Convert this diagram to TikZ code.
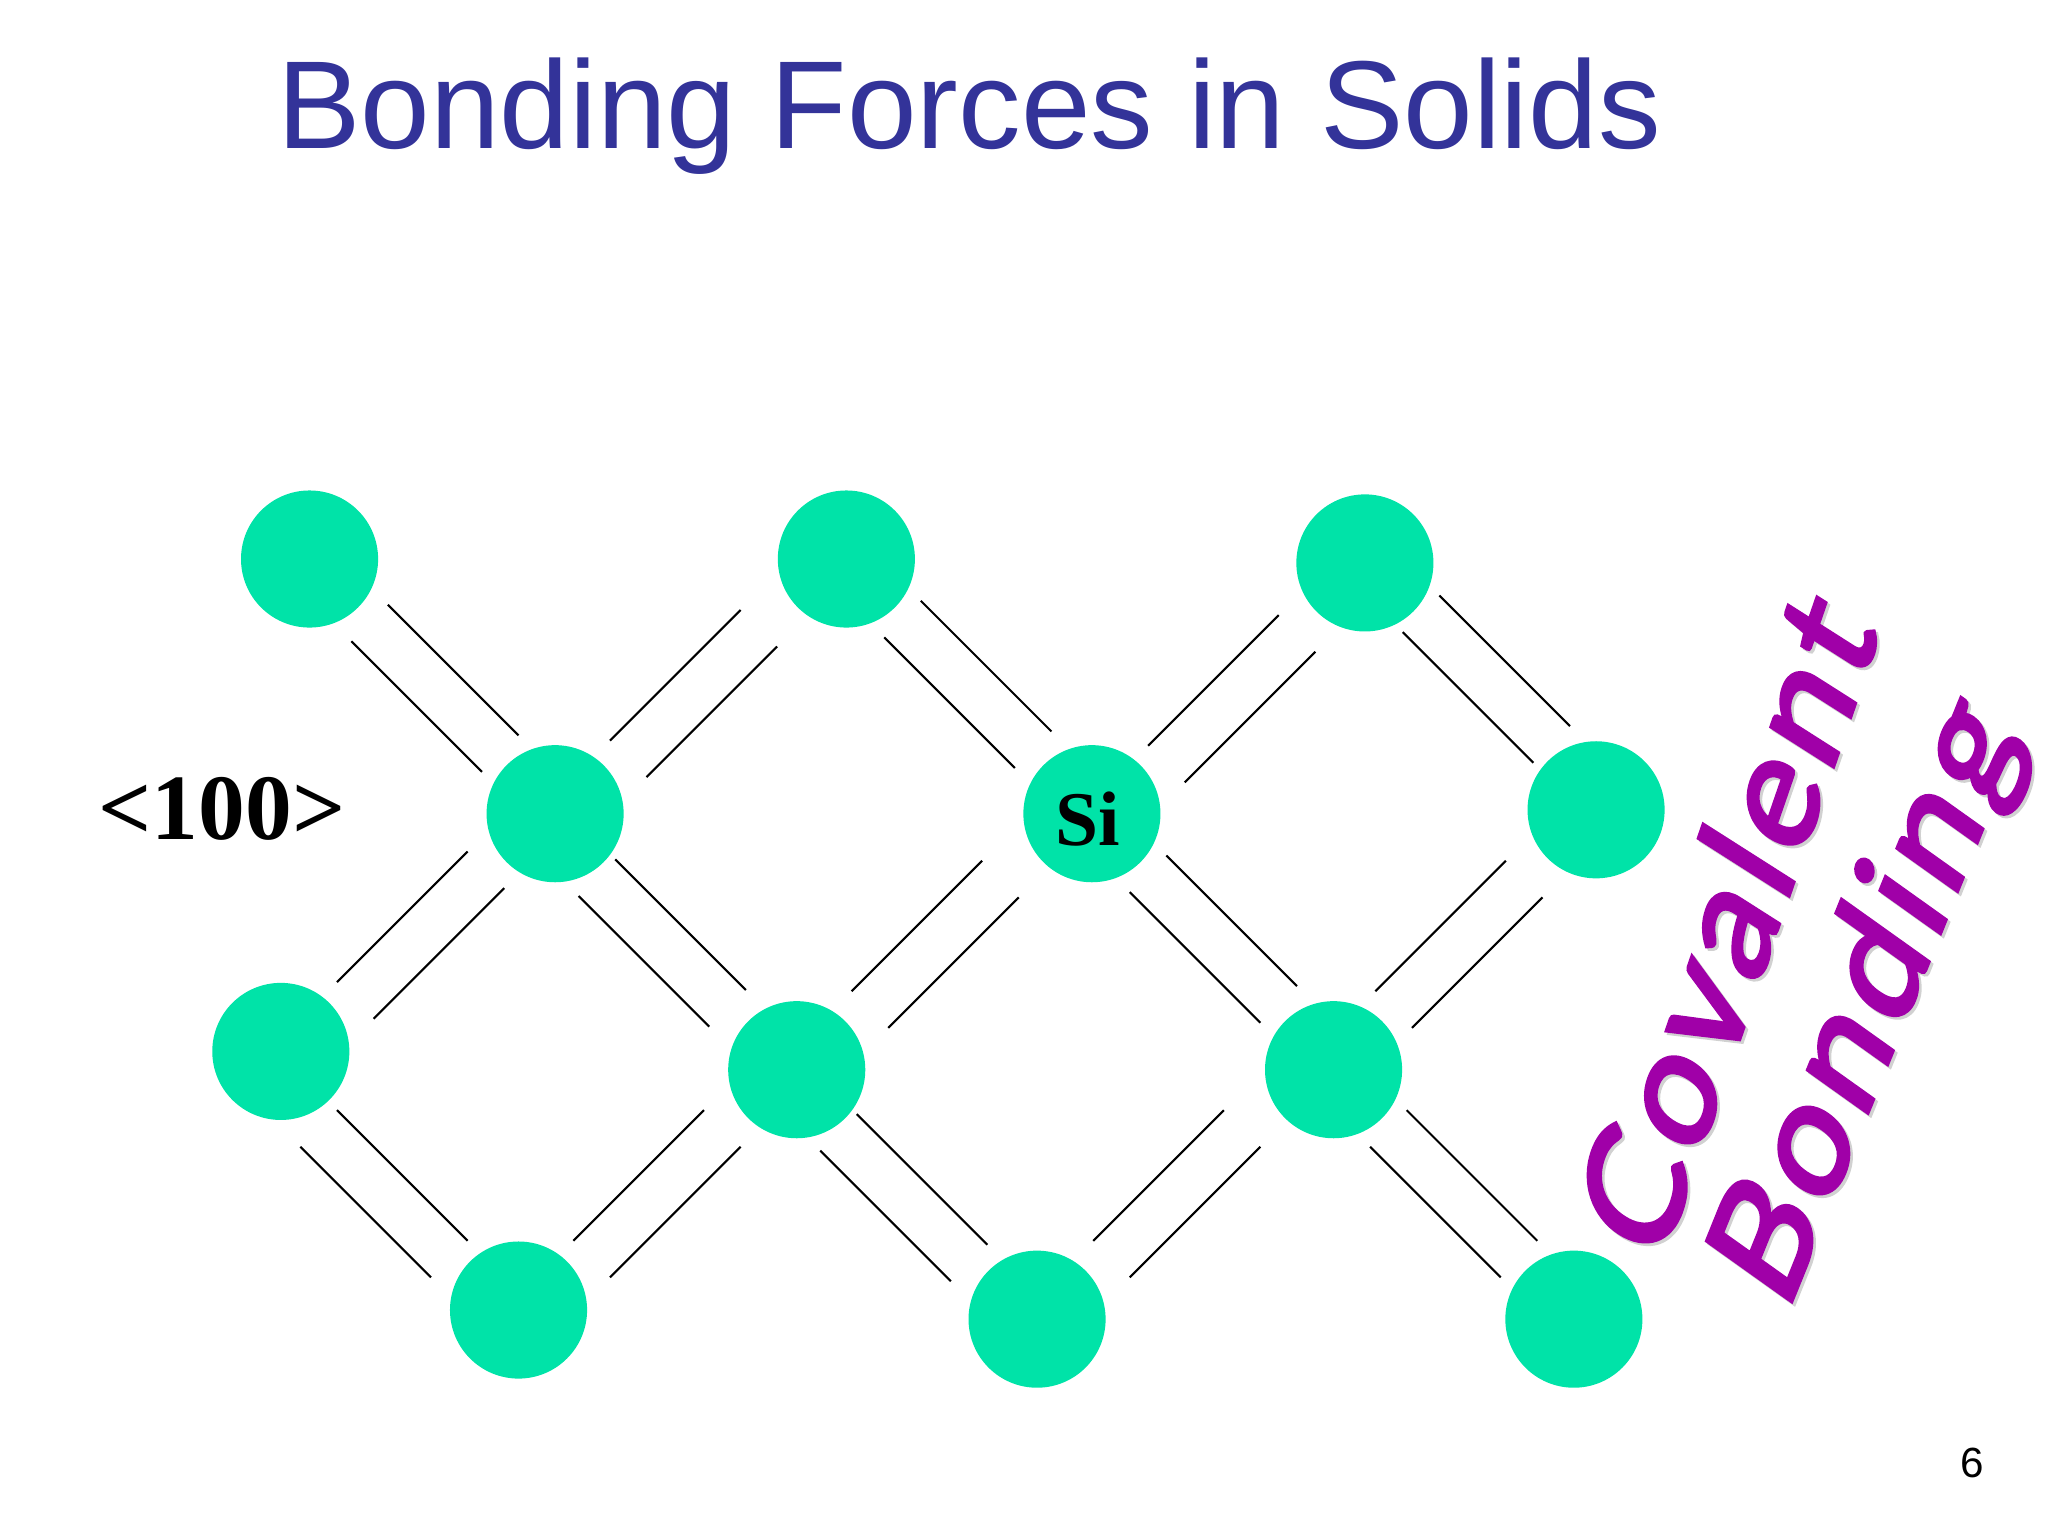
\documentclass[tikz,border=0pt]{standalone}
\usepackage{fontspec}
\setmainfont{Liberation Sans}
\newfontfamily\timesfont{Liberation Serif}
\newfontfamily\handfont[FakeBold=3, FakeStretch=1.12, LetterSpace=6]{Lato}
\definecolor{atomgreen}{HTML}{00E3A8}
\definecolor{titleblue}{HTML}{333399}
\definecolor{bondpurple}{HTML}{A000A8}
\tikzstyle{atom}=[circle, fill=atomgreen, minimum size=1.371cm, inner sep=0pt]
\tikzstyle{bond}=[draw, black, line width=0.6pt]
\tikzstyle{wordart}=[font=\handfont\fontsize{40}{40}\selectfont, anchor=center, inner sep=0pt]
\tikzstyle{lean}=[xslant=0.24]

\begin{document}
\begin{tikzpicture}[x=0.01306cm, y=-0.01306cm]
    \useasboundingbox (0,0) rectangle (1568,1176);
    \node[text=titleblue, font=\fontsize{35.6}{36}\selectfont] (title) at (742,89) {Bonding Forces in Solids};

    \foreach \pos/\name in {
                            {(237,428)/a1}, {(648,428)/a2}, {(1045,431)/a3},
                            {(425,623)/b1}, {(836,623)/b2}, {(1222,620)/b3},
                            {(215,805)/c1}, {(610,819)/c2}, {(1021,819)/c3},
                            {(397,1003)/d1}, {(794,1010)/d2}, {(1205,1010)/d3}}
        \node[atom] (\name) at \pos {};

    % Bonds going down to the right, the second line lies below and left of the first
    \foreach \source/\dest/\sx/\sy/\tx/\ty in {
                            a1/b1/60/35/-28/-60, a2/b2/57/32/-31/-63, a3/b3/57/25/-20/-64,
                            b1/c2/46/35/-39/-61, b2/c3/57/32/-28/-64, c1/d1/43/45/-39/-53,
                            c2/d2/46/34/-38/-57, c3/d3/56/31/-28/-60} {
        \path[bond] ([shift={(\sx,\sy)}]\source.center) -- ([shift={(\tx,\ty)}]\dest.center);
        \path[bond] ([shift={(\sx-28,\sy+28)}]\source.center) -- ([shift={(\tx-28,\ty+28)}]\dest.center);
    }

    % Bonds going up to the right, the second line lies below and right of the first
    \foreach \source/\dest/\sx/\sy/\tx/\ty in {
                            b1/a2/42/-56/-81/39, b2/a3/43/-52/-66/40, c1/b1/43/-53/-67/29,
                            c2/b2/42/-60/-84/36, c3/b3/32/-60/-69/39, d1/c2/42/-53/-71/31,
                            d2/c3/43/-60/-84/31} {
        \path[bond] ([shift={(\sx,\sy)}]\source.center) -- ([shift={(\tx,\ty)}]\dest.center);
        \path[bond] ([shift={(\sx+28,\sy+28)}]\source.center) -- ([shift={(\tx+28,\ty+28)}]\dest.center);
    }

    \node[font=\timesfont\bfseries\fontsize{26.6}{27}\selectfont] (direction) at (170,619) {<100>};
    \node[font=\timesfont\bfseries\fontsize{22}{22}\selectfont] (si) at ([shift={(-3,4)}]b2.center) {Si};
    \node[font=\fontsize{12}{12}\selectfont] (page) at (1510,1120) {6};

    % Slanted lettering with its pale shadow
    \node[wordart, text=black!18, rotate=71, lean] (covalentshade) at (1323,708) {Covalent};
    \node[wordart, text=bondpurple, rotate=71, lean] (covalent) at (1321,706) {Covalent};
    \node[wordart, text=black!18, rotate=68, lean] (bondingshade) at (1434,769) {Bonding};
    \node[wordart, text=bondpurple, rotate=68, lean] (bonding) at (1432,767) {Bonding};
\end{tikzpicture}
\end{document}
